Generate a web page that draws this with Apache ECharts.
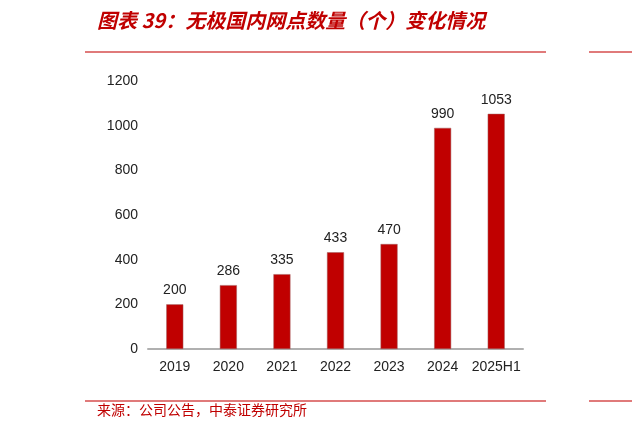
<!DOCTYPE html>
<html><head><meta charset="utf-8">
<script src="https://cdn.jsdelivr.net/npm/echarts@6/dist/echarts.min.js"></script>
<style>html,body{margin:0;padding:0;background:#fff}#c{width:632px;height:429px}</style>
</head><body><div id="c"></div>
<script>
const categories = ['2019','2020','2021','2022','2023','2024','2025H1'];
const values = [200, 286, 335, 433, 470, 990, 1053];
const yTicks = [0, 200, 400, 600, 800, 1000, 1200];
const titleText = '图表 39：无极国内网点数量（个）变化情况';
const sourceText = '来源：公司公告，中泰证券研究所';

const chart = echarts.init(document.getElementById('c'), null, {renderer:'canvas'});
chart.setOption({
  animation: false,
  backgroundColor: '#fff',
  grid: {left: 148, right: 109, top: 81, bottom: 80, containLabel: false},
  xAxis: {
    type: 'category', data: categories,
    axisLine: {lineStyle: {color: '#b0b0b0', width: 2}},
    axisTick: {show: false},
    axisLabel: {interval: 0, color: '#222', fontSize: 14, fontFamily: 'Liberation Sans, Arial', margin: 11}
  },
  yAxis: {
    type: 'value', min: yTicks[0], max: yTicks[yTicks.length-1], interval: 200,
    axisLine: {show: false}, axisTick: {show: false}, splitLine: {show: false},
    axisLabel: {color: '#222', fontSize: 14, fontFamily: 'Liberation Sans, Arial', margin: 10,
      formatter: v => String(v)}
  },
  series: [{
    type: 'bar', data: values, barWidth: 17,
    itemStyle: {color: '#c00000', borderColor: '#a06060', borderWidth: 0.5},
    label: {show: true, position: 'top', distance: 7, color: '#222', fontSize: 14, fontFamily: 'Liberation Sans, Arial'}
  }],
  graphic: [
    {type: 'text', left: 97, top: 10, style: {text: titleText, fill: '#c00000', font: 'italic bold 20px "Noto Sans CJK SC", sans-serif'}},
    {type: 'rect', shape: {x: 85, y: 51, width: 461, height: 2}, style: {fill: '#e07a7a'}},
    {type: 'rect', shape: {x: 589, y: 51, width: 43, height: 2}, style: {fill: '#e07a7a'}},
    {type: 'rect', shape: {x: 85, y: 400, width: 461, height: 2}, style: {fill: '#e07a7a'}},
    {type: 'rect', shape: {x: 589, y: 400, width: 43, height: 2}, style: {fill: '#e07a7a'}},
    {type: 'text', left: 97, top: 403, style: {text: sourceText, fill: '#c00000', font: '14px "Noto Sans CJK SC", sans-serif'}}
  ]
});
</script></body></html>
